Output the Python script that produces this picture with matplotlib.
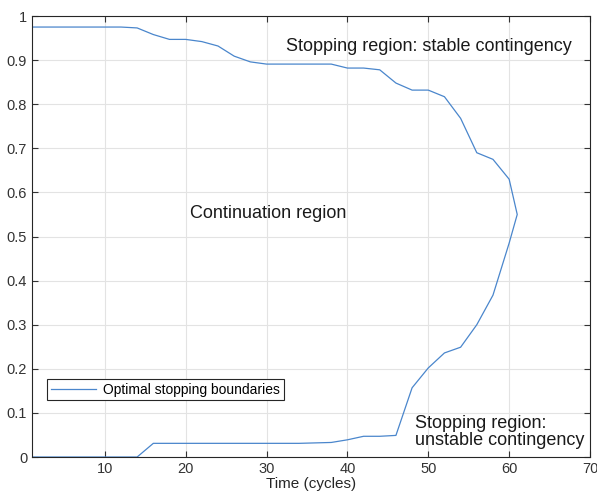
import matplotlib
matplotlib.use('Agg')
import matplotlib.pyplot as plt

# upper boundary (stable contingency), time in cycles
upper_t = [1, 12, 14, 16, 18, 20, 22, 24, 26, 28, 30, 32, 34, 36, 38, 40,
           42, 44, 46, 48, 50, 52, 54, 56, 58, 60, 61]
upper_p = [0.975, 0.975, 0.973, 0.958, 0.947, 0.947, 0.942, 0.932, 0.909,
           0.896, 0.891, 0.891, 0.891, 0.891, 0.891, 0.882, 0.882, 0.878,
           0.848, 0.832, 0.832, 0.817, 0.768, 0.690, 0.675, 0.630, 0.550]

# lower boundary (unstable contingency)
lower_t = [1, 12, 14, 16, 18, 20, 22, 24, 26, 28, 30, 32, 34, 36, 38, 40,
           42, 44, 46, 48, 50, 52, 54, 56, 58, 60, 61]
lower_p = [0.0, 0.0, 0.0, 0.031, 0.031, 0.031, 0.031, 0.031, 0.031, 0.031,
           0.031, 0.031, 0.031, 0.032, 0.033, 0.039, 0.047, 0.047, 0.049,
           0.157, 0.202, 0.236, 0.249, 0.300, 0.367, 0.485, 0.550]

plt.rcParams['font.family'] = ['Liberation Sans', 'DejaVu Sans']

fig = plt.figure(figsize=(5.97, 4.96), dpi=100)
ax = fig.add_axes([0.0536, 0.0786, 0.9347, 0.8891])

t = upper_t + lower_t[::-1]
p = upper_p + lower_p[::-1]
ax.plot(t, p, color='#4a86cc', linewidth=0.9, label='Optimal stopping boundaries')

ax.set_xlim(1, 70)
ax.set_ylim(0, 1)
ax.set_xticks(range(10, 71, 10))
ax.set_yticks([i / 10 for i in range(11)])
ax.set_yticklabels(['0', '0.1', '0.2', '0.3', '0.4', '0.5', '0.6', '0.7',
                    '0.8', '0.9', '1'])
ax.grid(True, color='#e3e3e3', linewidth=0.8)
ax.set_axisbelow(True)
ax.tick_params(direction='in', top=True, right=True, labelsize=10.5,
               colors='#333333', length=4)
for s in ax.spines.values():
    s.set_color('#262626')
    s.set_linewidth(0.8)
ax.set_xlabel('Time (cycles)', fontsize=11, color='#262626', labelpad=1)

ax.text(32.4, 0.93, 'Stopping region: stable contingency', fontsize=13,
        va='center', color='#1a1a1a')
ax.text(20.5, 0.553, 'Continuation region', fontsize=13, va='center',
        color='#1a1a1a')
ax.text(48.3, 0.057, 'Stopping region:\nunstable contingency', fontsize=13,
        va='center', color='#1a1a1a', linespacing=0.95)

leg = ax.legend(loc='lower left', bbox_to_anchor=(0.027, 0.129), fontsize=10,
                fancybox=False, edgecolor='#262626', framealpha=1,
                handlelength=3.3, handletextpad=0.5, borderpad=0.25,
                borderaxespad=0)
leg.get_frame().set_linewidth(0.8)

fig.savefig('out.png', dpi=100)
